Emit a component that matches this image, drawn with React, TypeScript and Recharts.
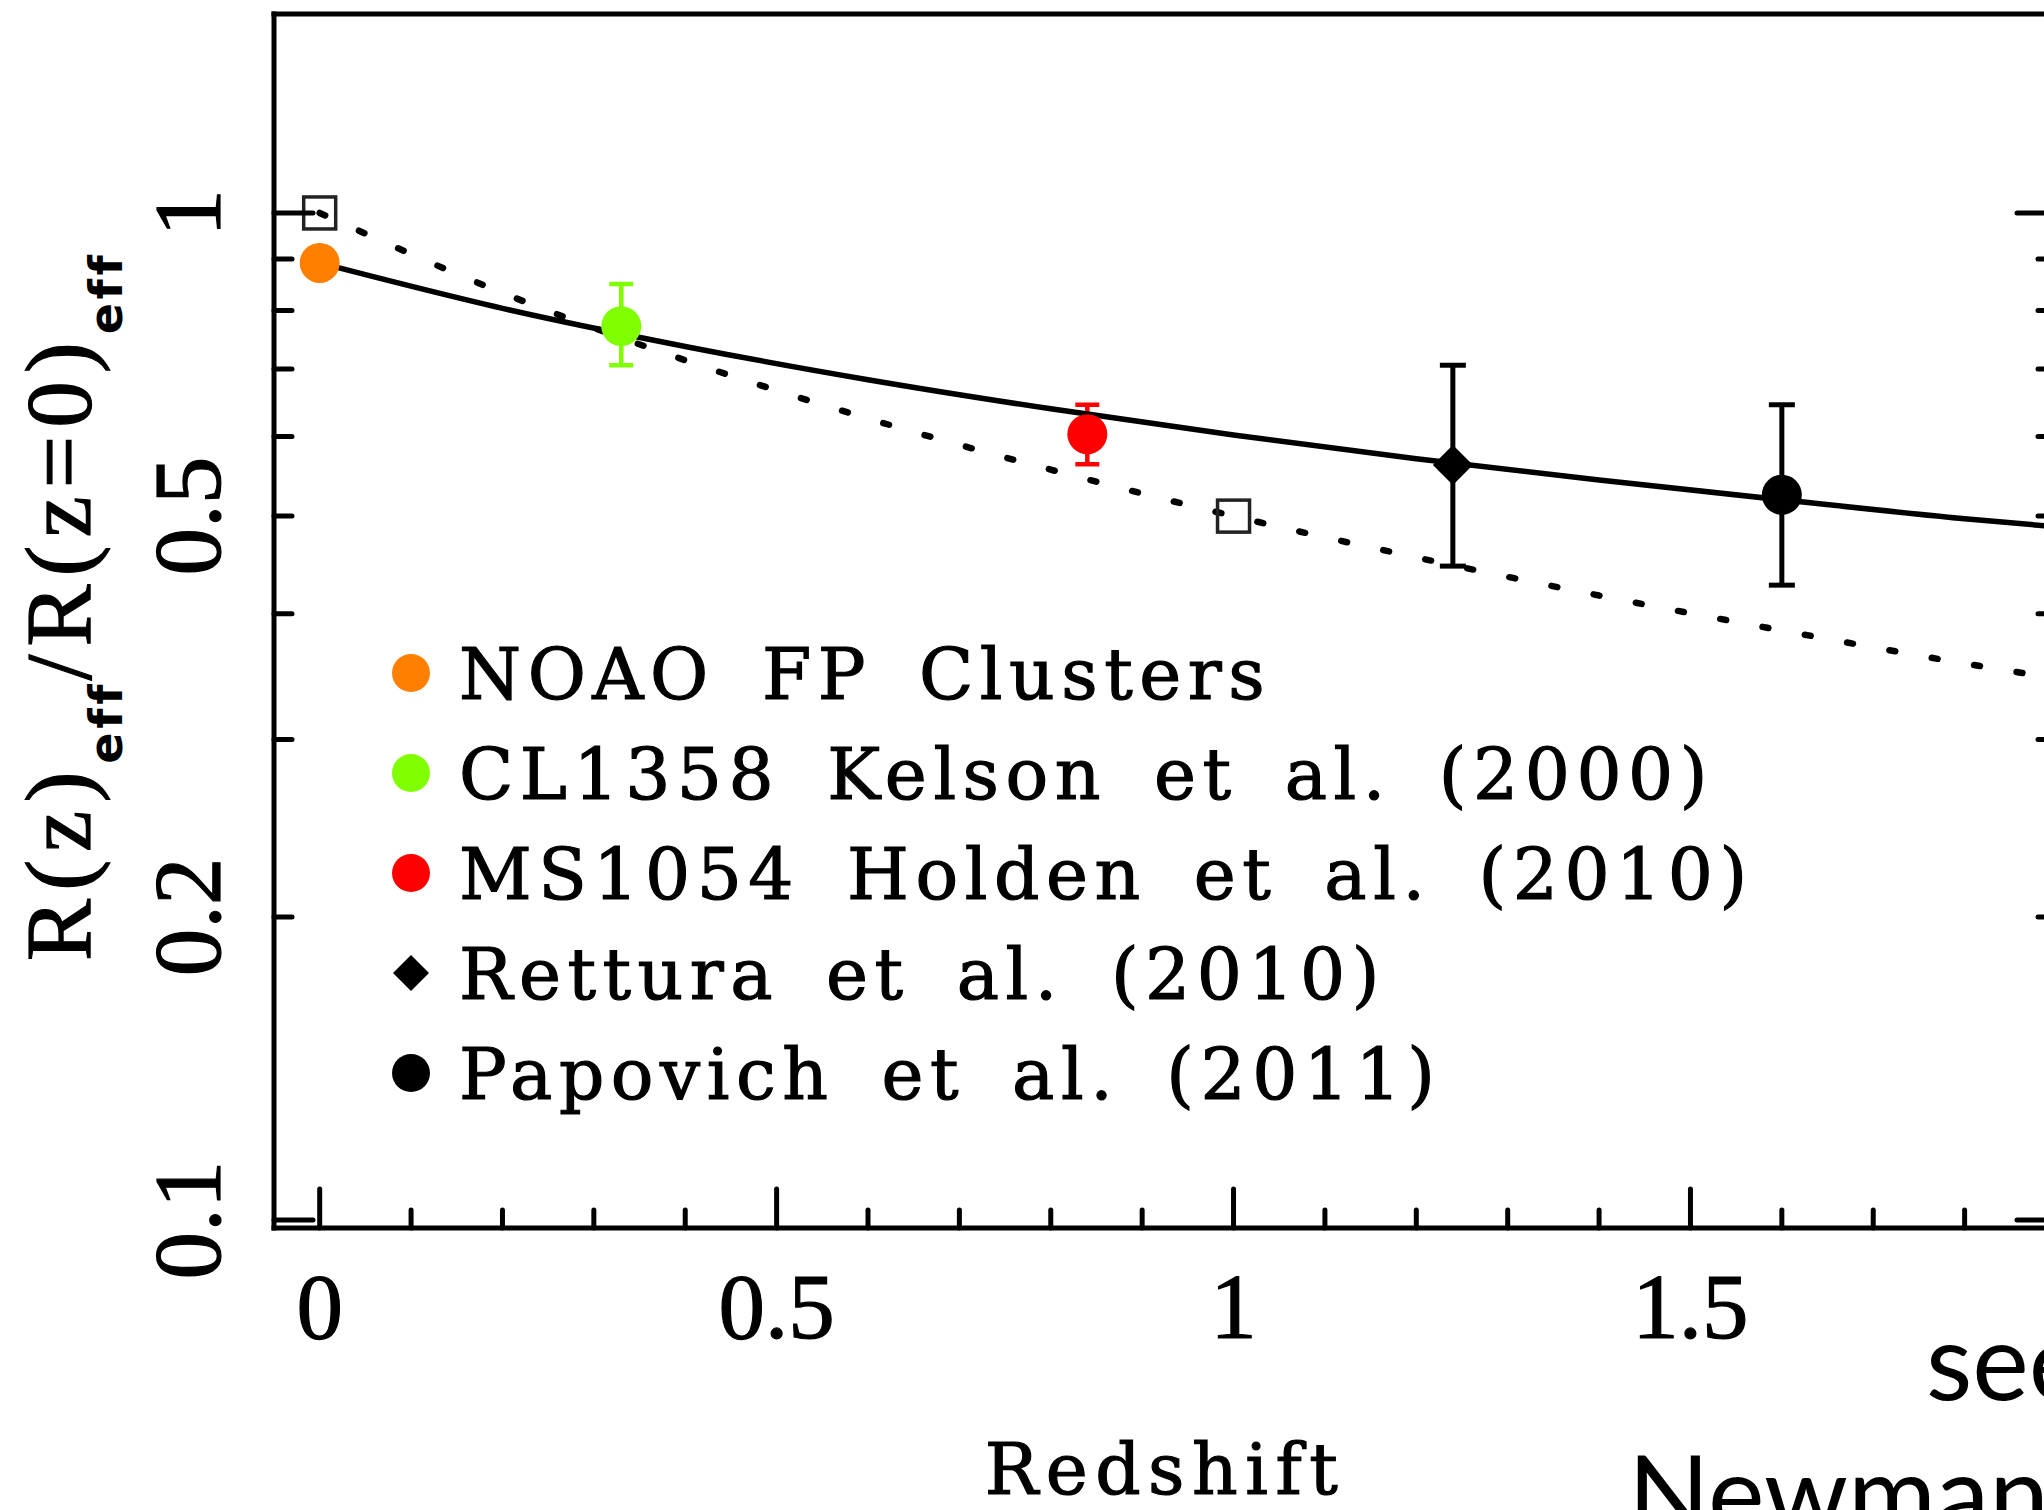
import React from "react";
import {
  ComposedChart,
  XAxis,
  YAxis,
  Scatter,
  Line,
  ErrorBar,
  Customized,
} from "recharts";

/* ---------- axes ---------- */
const Z_DOMAIN: [number, number] = [-0.05, 1.9];
const Z_TICKS = [0, 0.1, 0.2, 0.3, 0.4, 0.5, 0.6, 0.7, 0.8, 0.9, 1, 1.1, 1.2, 1.3, 1.4, 1.5, 1.6, 1.7, 1.8];
const Z_LABELS = [0, 0.5, 1, 1.5];

const R_DOMAIN: [number, number] = [0.0982, 1.576];
const R_TICKS = [0.1, 0.2, 0.3, 0.4, 0.5, 0.6, 0.7, 0.8, 0.9, 1];
const R_MAJOR = [0.1, 1];
const R_LABELS = [0.1, 0.2, 0.5, 1];

/* ---------- measurements (z, size ratio, error range) ---------- */
const NOAO = [{ z: 0, r: 0.892 }];
const CL1358 = [{ z: 0.33, r: 0.772, lo: 0.706, hi: 0.85 }];
const MS1054 = [{ z: 0.84, r: 0.603, lo: 0.563, hi: 0.645 }];
const RETTURA = [{ z: 1.24, r: 0.562, lo: 0.446, hi: 0.706 }];
const PAPOVICH = [{ z: 1.6, r: 0.525, lo: 0.427, hi: 0.645 }];
const OPEN_SQUARES = [
  { z: 0, r: 1 },
  { z: 1, r: 0.5 },
];

/* ---------- curves ---------- */
const CURVE_Z = [0, 0.2, 0.4, 0.6, 0.8, 1, 1.2, 1.4, 1.6, 1.8, 1.9];
const FIT_R = [0.892, 0.804, 0.737, 0.683, 0.639, 0.602, 0.57, 0.543, 0.519, 0.497, 0.488];
const DOTTED_R = [1, 0.833, 0.714, 0.625, 0.556, 0.5, 0.455, 0.417, 0.385, 0.357, 0.345];

/* ---------- legend ---------- */
const LEGEND_LABELS = [
  "NOAO FP Clusters",
  "CL1358 Kelson et al. (2000)",
  "MS1054 Holden et al. (2010)",
  "Rettura et al. (2010)",
  "Papovich et al. (2011)",
];
const LEGEND_COLORS = ["#ff7f00", "#7fff00", "#ff0000", "#000000", "#000000"];
const LEGEND_MARKERS = ["circle", "circle", "circle", "diamond", "circle"];

const fitData = CURVE_Z.map((z, i) => ({ z, r: FIT_R[i] }));
const dottedData = CURVE_Z.map((z, i) => ({ z, r: DOTTED_R[i] }));

const SERIF = "'Liberation Serif', 'Times New Roman', serif";
const WIDE_SERIF = "'DejaVu Serif', serif";
const SUB_FONT = "'DejaVu Sans', sans-serif";
const MAJOR_LEN = 39;
const MINOR_LEN = 18;
const TICK_STROKE = { stroke: "#000", strokeWidth: 5, strokeLinecap: "round" as const };
// plotted text in this figure is drawn slightly heavier than the regular face
const HEAVY = { fill: "#000", stroke: "#000", strokeWidth: 1.2 };
const MARKER_R = 20;

const isIn = (list: number[], v: number) => list.some((t) => Math.abs(t - v) < 1e-6);

const errRange = (d: any) => [d.r - d.lo, d.hi - d.r];

function BottomTick({ x, y, payload }: any) {
  const v = payload.value;
  const major = isIn(Z_LABELS, v);
  return (
    <g>
      <line x1={x} x2={x} y1={y} y2={y - (major ? MAJOR_LEN : MINOR_LEN)} {...TICK_STROKE} />
      {major && (
        <text x={x} y={y + 110} textAnchor="middle" fontFamily={SERIF} fontSize={93} {...HEAVY}>
          {String(v)}
        </text>
      )}
    </g>
  );
}

function TopTick({ x, y, payload }: any) {
  const major = isIn(Z_LABELS, payload.value);
  return <line x1={x} x2={x} y1={y} y2={y + (major ? MAJOR_LEN : MINOR_LEN)} {...TICK_STROKE} />;
}

function LeftTick({ x, y, payload }: any) {
  const v = payload.value;
  const major = isIn(R_MAJOR, v);
  const lx = 220;
  return (
    <g>
      <line x1={x} x2={x + (major ? MAJOR_LEN : MINOR_LEN)} y1={y} y2={y} {...TICK_STROKE} />
      {isIn(R_LABELS, v) && (
        <text
          x={lx}
          y={y}
          transform={`rotate(-90 ${lx} ${y})`}
          textAnchor="middle"
          fontFamily={SERIF}
          fontSize={95}
          {...HEAVY}
        >
          {String(v)}
        </text>
      )}
    </g>
  );
}

function RightTick({ x, y, payload }: any) {
  const major = isIn(R_MAJOR, payload.value);
  return <line x1={x} x2={x - (major ? MAJOR_LEN : MINOR_LEN)} y1={y} y2={y} {...TICK_STROKE} />;
}

const circleShape = (fill: string) => (p: any) => (
  <circle cx={p.cx} cy={p.cy} r={MARKER_R} fill={fill} />
);

const diamondShape = (p: any) => (
  <polygon
    points={`${p.cx},${p.cy - 20} ${p.cx + 20},${p.cy} ${p.cx},${p.cy + 20} ${p.cx - 20},${p.cy}`}
    fill="#000"
  />
);

const squareShape = (p: any) => (
  <rect x={p.cx - 16} y={p.cy - 16} width={32} height={32} fill="none" stroke="#222" strokeWidth={3.5} />
);

function Annotations() {
  const legendTop = 673;
  const rowGap = 100;
  return (
    <g>
      {LEGEND_LABELS.map((label, i) => {
        const cy = legendTop + i * rowGap;
        return (
          <g key={label}>
            {LEGEND_MARKERS[i] === "diamond" ? (
              <polygon points={`411,${cy - 18} 429,${cy} 411,${cy + 18} 393,${cy}`} fill={LEGEND_COLORS[i]} />
            ) : (
              <circle cx={411} cy={cy} r={19} fill={LEGEND_COLORS[i]} />
            )}
            <text
              x={459}
              y={cy + 26}
              fontFamily={WIDE_SERIF}
              fontSize={71}
              letterSpacing={6.5}
              wordSpacing={18}
              {...HEAVY}
            >
              {label}
            </text>
          </g>
        );
      })}

      {/* axis titles */}
      <text
        x={1165}
        y={1494}
        textAnchor="middle"
        fontFamily={WIDE_SERIF}
        fontSize={71}
        letterSpacing={7.5}
        {...HEAVY}
      >
        Redshift
      </text>
      <text
        x={90}
        y={606}
        transform="rotate(-90 90 606)"
        textAnchor="middle"
        fontFamily={SERIF}
        fontSize={93}
        letterSpacing={8}
        {...HEAVY}
      >
        R(z)
        <tspan dy={32} fontFamily={SUB_FONT} fontWeight="bold" fontSize={46} letterSpacing={4} strokeWidth={0}>
          eff
        </tspan>
        <tspan dy={-32}>/R(z=0)</tspan>
        <tspan dy={32} fontFamily={SUB_FONT} fontWeight="bold" fontSize={46} letterSpacing={4} strokeWidth={0}>
          eff
        </tspan>
      </text>

      {/* slide caption */}
      <text x={1926} y={1400} fontFamily="Lato, sans-serif" fontSize={107} fill="#000">
        see
      </text>
      <text x={1628} y={1532} fontFamily="Lato, sans-serif" fontSize={107} fill="#000">
        Newman
      </text>
    </g>
  );
}

export default function App() {
  const frame = { stroke: "#000", strokeWidth: 5, strokeLinecap: "square" as const };
  return (
    <div
      style={{
        position: "fixed",
        left: 0,
        top: 0,
        width: 2044,
        height: 1510,
        overflow: "hidden",
        background: "#fff",
      }}
    >
      <ComposedChart width={2120} height={1510} margin={{ top: 0, right: 0, bottom: 0, left: 0 }}>
        <XAxis
          xAxisId={0}
          dataKey="z"
          type="number"
          domain={Z_DOMAIN}
          allowDataOverflow
          ticks={Z_TICKS}
          interval={0}
          height={282}
          tickSize={0}
          tickMargin={0}
          tickLine={false}
          axisLine={frame}
          tick={<BottomTick />}
        />
        <XAxis
          xAxisId="top"
          orientation="top"
          type="number"
          domain={Z_DOMAIN}
          allowDataOverflow
          ticks={Z_TICKS}
          interval={0}
          height={14}
          tickSize={0}
          tickMargin={0}
          tickLine={false}
          axisLine={frame}
          tick={<TopTick />}
        />
        <YAxis
          yAxisId={0}
          dataKey="r"
          type="number"
          scale="log"
          domain={R_DOMAIN}
          allowDataOverflow
          ticks={R_TICKS}
          interval={0}
          width={274}
          tickSize={0}
          tickMargin={0}
          tickLine={false}
          axisLine={frame}
          tick={<LeftTick />}
        />
        <YAxis
          yAxisId="right"
          orientation="right"
          type="number"
          scale="log"
          domain={R_DOMAIN}
          allowDataOverflow
          ticks={R_TICKS}
          interval={0}
          width={64}
          tickSize={0}
          tickMargin={0}
          tickLine={false}
          axisLine={frame}
          tick={<RightTick />}
        />

        <Scatter data={OPEN_SQUARES} dataKey="r" shape={squareShape} isAnimationActive={false} />
        <Scatter data={NOAO} dataKey="r" shape={circleShape("#ff7f00")} isAnimationActive={false} />
        <Scatter data={CL1358} dataKey="r" shape={circleShape("#7fff00")} isAnimationActive={false}>
          <ErrorBar dataKey={errRange} direction="y" width={12} stroke="#7fff00" strokeWidth={4.5} isAnimationActive={false} />
        </Scatter>
        <Scatter data={MS1054} dataKey="r" shape={circleShape("#ff0000")} isAnimationActive={false}>
          <ErrorBar dataKey={errRange} direction="y" width={12} stroke="#ff0000" strokeWidth={4.5} isAnimationActive={false} />
        </Scatter>
        <Scatter data={RETTURA} dataKey="r" shape={diamondShape} isAnimationActive={false}>
          <ErrorBar dataKey={errRange} direction="y" width={13} stroke="#000" strokeWidth={5} isAnimationActive={false} />
        </Scatter>
        <Scatter data={PAPOVICH} dataKey="r" shape={circleShape("#000")} isAnimationActive={false}>
          <ErrorBar dataKey={errRange} direction="y" width={13} stroke="#000" strokeWidth={5} isAnimationActive={false} />
        </Scatter>

        <Line
          data={dottedData}
          dataKey="r"
          type="monotone"
          stroke="#000"
          strokeWidth={6.5}
          strokeDasharray="6 37"
          strokeLinecap="round"
          dot={false}
          isAnimationActive={false}
        />
        <Line
          data={fitData}
          dataKey="r"
          type="monotone"
          stroke="#000"
          strokeWidth={5.5}
          dot={false}
          isAnimationActive={false}
        />

        <Customized component={<Annotations />} />
      </ComposedChart>
    </div>
  );
}
